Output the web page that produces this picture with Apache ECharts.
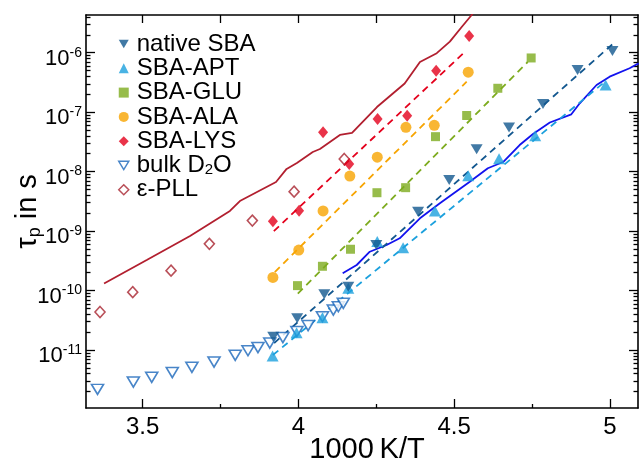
<!DOCTYPE html>
<html>
<head>
<meta charset="utf-8">
<script src="https://cdn.jsdelivr.net/npm/echarts@6/dist/echarts.min.js"></script>
<style>
  html, body { margin: 0; padding: 0; background: #fff; }
  #chart { width: 639px; height: 461px; }
</style>
</head>
<body>
<div id="chart"></div>
<script>
// ---- axis ranges and ticks ----
const xMin = 3.318, xMax = 5.09;
const yMin = 1.06e-12, yMax = 4.3e-6;
const xMajorTicks = [3.5, 4, 4.5, 5];
const xMinorTicks = [3.75, 4.25, 4.75];
const xTopTicks = [3.5, 3.75, 4, 4.25, 4.5, 4.75, 5];
const yMajorExponents = [-11, -10, -9, -8, -7, -6];

// ---- measured relaxation times (x = 1000 K / T, tau in s) ----
const nativeX   = [3.919, 3.996, 4.083, 4.160, 4.250, 4.384, 4.484, 4.572, 4.676, 4.785, 4.896, 5.008];
const nativeTau = [1.67e-11, 3.41e-11, 8.65e-11, 1.16e-10, 5.83e-10, 2.12e-9, 7.23e-9, 2.38e-8, 5.52e-8, 1.37e-7, 5.12e-7, 1.07e-6];

const aptX   = [3.917, 3.994, 4.077, 4.160, 4.253, 4.336, 4.438, 4.545, 4.644, 4.760, 4.986];
const aptTau = [7.93e-12, 1.95e-11, 3.49e-11, 1.09e-10, 6.68e-10, 5.25e-10, 2.18e-9, 8.53e-9, 1.64e-8, 4.02e-8, 2.86e-7];

const gluX   = [3.997, 4.077, 4.167, 4.252, 4.344, 4.440, 4.540, 4.640, 4.747];
const gluTau = [1.21e-10, 2.56e-10, 4.95e-10, 4.42e-9, 5.37e-9, 3.87e-8, 8.79e-8, 2.52e-7, 8.15e-7];

const alaX   = [3.918, 4.001, 4.079, 4.165, 4.253, 4.345, 4.436, 4.545];
const alaTau = [1.66e-10, 4.8e-10, 2.18e-9, 8.4e-9, 1.75e-8, 5.56e-8, 6.0e-8, 4.7e-7];

const lysX   = [3.918, 4.002, 4.079, 4.163, 4.254, 4.349, 4.442, 4.548];
const lysTau = [1.46e-9, 2.2e-9, 4.58e-8, 1.34e-8, 7.67e-8, 8.7e-8, 4.96e-7, 1.91e-6];

const bulkX   = [3.355, 3.470, 3.529, 3.595, 3.658, 3.729, 3.797, 3.838, 3.870, 3.908, 3.950, 3.995, 4.031, 4.077, 4.112, 4.128, 4.144];
const bulkTau = [2.18e-12, 2.9e-12, 3.48e-12, 4.18e-12, 5.12e-12, 6.28e-12, 8.15e-12, 9.73e-12, 1.10e-11, 1.31e-11, 1.62e-11, 2.05e-11, 2.58e-11, 3.63e-11, 4.71e-11, 5.35e-11, 6.1e-11];

const pllX   = [3.363, 3.468, 3.591, 3.714, 3.852, 3.986, 4.147];
const pllTau = [4.36e-11, 9.4e-11, 2.16e-10, 6.1e-10, 1.5e-9, 4.6e-9, 1.63e-8];

// ---- Arrhenius fits (end points) ----
const nativeFitX = [3.922, 5.009], nativeFitTau = [1.31e-11, 1.4e-6];
const aptFitX    = [3.918, 4.983], aptFitTau    = [8.24e-12, 3.22e-7];
const gluFitX    = [3.998, 4.736], gluFitTau    = [8.9e-11, 6.97e-7];
const alaFitX    = [3.924, 4.540], alaFitTau    = [2.05e-10, 3.25e-7];
const lysFitX    = [3.921, 4.539], lysFitTau    = [1.0e-9, 1.09e-6];

// ---- reference curves ----
const pllCurveX   = [3.376, 3.513, 3.652, 3.780, 3.812, 3.928, 3.962, 3.995, 4.046, 4.069, 4.133, 4.172, 4.252, 4.341, 4.390, 4.444, 4.486, 4.524, 4.556, 4.576];
const pllCurveTau = [1.31e-10, 3.26e-10, 8.26e-10, 2.18e-9, 3.2e-9, 6.7e-9, 1.11e-8, 1.40e-8, 2.14e-8, 2.4e-8, 4.13e-8, 4.5e-8, 1.22e-7, 3.03e-7, 6.98e-7, 9.8e-7, 1.53e-6, 2.7e-6, 4.3e-6, 6.1e-6];

const bulkCurveX   = [4.142, 4.187, 4.229, 4.283, 4.325, 4.390, 4.454, 4.550, 4.608, 4.657, 4.710, 4.753, 4.807, 4.876, 4.903, 4.957, 4.999, 5.063, 5.092];
const bulkCurveTau = [1.95e-10, 2.69e-10, 4.5e-10, 5.83e-10, 7.56e-10, 1.64e-9, 2.93e-9, 6.76e-9, 1.14e-8, 1.45e-8, 2.8e-8, 4.3e-8, 6.7e-8, 9.2e-8, 1.41e-7, 2.86e-7, 3.95e-7, 5.47e-7, 6.6e-7];

// ---- colours ----
const C_NATIVE = '#12578f';
const C_APT = '#1ba0dd';
const C_GLU = '#7dab1e';
const C_ALA = '#f7a400';
const C_LYS = '#e4001c';
const C_BULK = '#1a67ba';
const C_PLL = '#a8232e';
const C_PLL_LINE = '#b21f2f';
const C_BULK_LINE = '#1212ee';

const FONT = 'Liberation Sans, Arial, Helvetica, sans-serif';
const DOWN_TRI = 'path://M0,0L12,0L6,10Z';

const pairs = (xs, ys) => xs.map((x, i) => [x, ys[i]]);

// minor ticks of the log axis: 2..9 times each power of ten
const yMajorTicks = yMajorExponents.map(e => Math.pow(10, e));
const yMinorTicks = [];
for (let e = -12; e <= -6; e++) {
  for (let k = 2; k <= 9; k++) {
    const v = k * Math.pow(10, e);
    if (v >= yMin && v <= yMax) yMinorTicks.push(v);
  }
}

const AXIS_LINE = { show: true, lineStyle: { color: '#000', width: 1.6 } };
const NO_LINE = { show: false };

function xAxisDef(position, ticks, len, showLine, extra) {
  return Object.assign({
    type: 'value', position: position, min: xMin, max: xMax,
    axisLine: showLine ? AXIS_LINE : NO_LINE,
    axisTick: { show: true, inside: true, length: len, customValues: ticks, lineStyle: { color: '#000', width: 1.3 } },
    axisLabel: { show: false },
    splitLine: { show: false }
  }, extra || {});
}
function yAxisDef(position, ticks, len, showLine, extra) {
  return Object.assign({
    type: 'log', logBase: 10, position: position, min: yMin, max: yMax,
    axisLine: showLine ? AXIS_LINE : NO_LINE,
    axisTick: { show: true, inside: true, length: len, customValues: ticks, lineStyle: { color: '#000', width: 1.3 } },
    axisLabel: { show: false },
    splitLine: { show: false }
  }, extra || {});
}

function fitLine(name, xs, ys, color) {
  return {
    name: name, type: 'line', data: pairs(xs, ys), showSymbol: false, symbol: 'none',
    lineStyle: { color: color, width: 1.8, type: [7, 5] }, silent: true, z: 2
  };
}
function curve(name, xs, ys, color) {
  return {
    name: name, type: 'line', data: pairs(xs, ys), showSymbol: false, symbol: 'none',
    lineStyle: { color: color, width: 1.8 }, silent: true, z: 2, clip: true
  };
}
function points(name, xs, ys, symbol, size, style) {
  return {
    name: name, type: 'scatter', data: pairs(xs, ys), symbol: symbol, symbolSize: size,
    itemStyle: style, z: 3
  };
}

const chart = echarts.init(document.getElementById('chart'), null, { renderer: 'canvas' });

chart.setOption({
  animation: false,
  backgroundColor: '#fff',
  textStyle: { fontFamily: FONT },
  grid: { left: 86, right: 1, top: 15, bottom: 53, containLabel: false, outerBoundsMode: 'none' },
  legend: {
    orient: 'vertical', left: 113, top: 27,
    itemWidth: 10, itemHeight: 10, itemGap: 0.3,
    selectedMode: false,
    textStyle: {
      fontFamily: FONT, fontSize: 24, color: '#000', lineHeight: 24,
      rich: {
        n: { fontFamily: FONT, fontSize: 24, lineHeight: 24, color: '#000' },
        lead: { fontFamily: FONT, fontSize: 24, lineHeight: 24, color: '#000', padding: [0, 0, 0, 3] },
        sub: { fontFamily: FONT, fontSize: 15, lineHeight: 10, verticalAlign: 'bottom', color: '#000' }
      }
    },
    formatter: name => name === 'bulk D2O' ? '{lead|bulk D}{sub|2}{n|O}' : '{lead|' + name + '}',
    data: [
      'native SBA', 'SBA-APT', 'SBA-GLU', 'SBA-ALA', 'SBA-LYS',
      { name: 'bulk D2O', itemStyle: { color: '#fff', borderColor: C_BULK, borderWidth: 1.5 } },
      { name: 'ε-PLL', itemStyle: { color: '#fff', borderColor: C_PLL, borderWidth: 1.5 } }
    ]
  },
  xAxis: [
    xAxisDef('bottom', xMajorTicks, 9, true, {
      axisLabel: {
        show: true, customValues: xMajorTicks, margin: 7,
        fontFamily: FONT, fontSize: 24, color: '#000',
        formatter: v => String(v)
      },
      name: '1000\u2009K/T', nameLocation: 'middle', nameGap: 27, nameMoveOverlap: false,
      nameTextStyle: { fontFamily: FONT, fontSize: 29, color: '#000', padding: [0, 0, 0, 10] }
    }),
    xAxisDef('bottom', xMinorTicks, 4, false),
    xAxisDef('top', xTopTicks, 8, true)
  ],
  yAxis: [
    yAxisDef('left', yMajorTicks, 9, true, {
      axisLabel: {
        show: true, customValues: yMajorTicks, margin: 4,
        formatter: v => '{b|10}{s|' + Math.round(Math.log10(v)) + '}',
        rich: {
          b: { fontFamily: FONT, fontSize: 22, lineHeight: 24, padding: [12, 0, 0, 0], color: '#000' },
          s: { fontFamily: FONT, fontSize: 14, lineHeight: 14, padding: [5, 0, 0, 0], verticalAlign: 'top', color: '#000' }
        }
      },
      name: '{t|τ}{p|p}{t| in s}', nameLocation: 'middle', nameGap: 42, nameMoveOverlap: false,
      nameTextStyle: {
        color: '#000',
        rich: {
          t: { fontFamily: FONT, fontSize: 29, lineHeight: 32, color: '#000' },
          p: { fontFamily: FONT, fontSize: 18, lineHeight: 12, verticalAlign: 'bottom', color: '#000' }
        }
      }
    }),
    yAxisDef('left', yMinorTicks, 4.5, false),
    yAxisDef('right', yMajorTicks, 9, true),
    yAxisDef('right', yMinorTicks, 4.5, false)
  ],
  series: [
    curve('PLL curve', pllCurveX, pllCurveTau, C_PLL_LINE),
    curve('bulk curve', bulkCurveX, bulkCurveTau, C_BULK_LINE),
    fitLine('native fit', nativeFitX, nativeFitTau, C_NATIVE),
    fitLine('APT fit', aptFitX, aptFitTau, C_APT),
    fitLine('GLU fit', gluFitX, gluFitTau, C_GLU),
    fitLine('ALA fit', alaFitX, alaFitTau, C_ALA),
    fitLine('LYS fit', lysFitX, lysFitTau, C_LYS),
    points('bulk D2O', bulkX, bulkTau, DOWN_TRI, [12, 10], { color: '#fff', borderColor: C_BULK, borderWidth: 1.6 }),
    points('ε-PLL', pllX, pllTau, 'diamond', [10, 11], { color: '#fff', borderColor: C_PLL, borderWidth: 1.6 }),
    points('SBA-APT', aptX, aptTau, 'triangle', [12, 11], { color: C_APT }),
    points('native SBA', nativeX, nativeTau, DOWN_TRI, [12, 10], { color: C_NATIVE }),
    points('SBA-GLU', gluX, gluTau, 'rect', [9, 9], { color: C_GLU }),
    points('SBA-ALA', alaX, alaTau, 'circle', 11, { color: C_ALA }),
    points('SBA-LYS', lysX, lysTau, 'diamond', [10, 12], { color: C_LYS })
  ]
});
</script>
</body>
</html>
